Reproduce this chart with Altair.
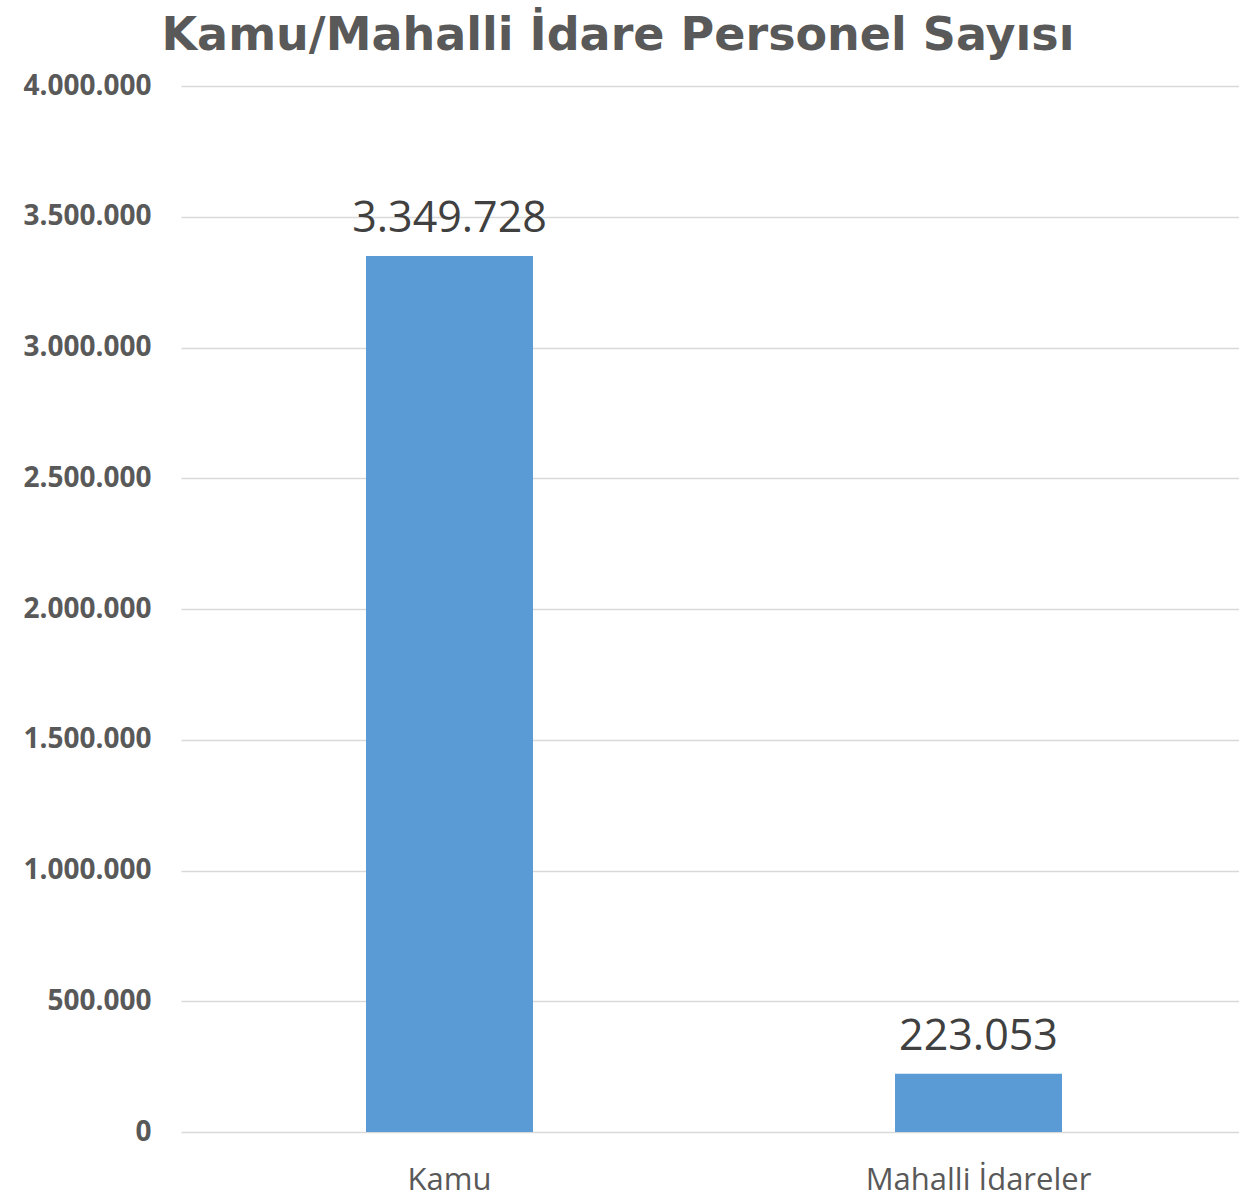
import altair as alt
import pandas as pd

categories = ["Kamu", "Mahalli İdareler"]
values = [3349728, 223053]
y_ticks = [0, 500000, 1000000, 1500000, 2000000, 2500000, 3000000, 3500000, 4000000]

df = pd.DataFrame({"cat": categories, "val": values})

base = alt.Chart(df).encode(
    x=alt.X("cat:N", sort=categories, title=None,
            scale=alt.Scale(paddingInner=0, paddingOuter=0),
            axis=alt.Axis(labelAngle=0, domain=False, ticks=False, labelPadding=33,
                          labelFont="Open Sans", labelFontSize=31, labelColor="#595959",
                          labelLimit=500, labelOffset=4, grid=False)),
)

bars = base.mark_bar(color="#5B9BD5", size=167, xOffset=4).encode(
    y=alt.Y("val:Q", title=None,
            scale=alt.Scale(domain=[0, 4000000], nice=False),
            axis=alt.Axis(values=y_ticks, format=",d", domain=False, ticks=False,
                          labelPadding=30, labelFont="Open Sans", labelFontSize=28,
                          labelFontWeight="bold", labelColor="#595959",
                          gridColor="#d9d9d9", gridWidth=1.6)),
)

labels = base.mark_text(font="Open Sans", fontSize=43, color="#404040",
                        baseline="alphabetic", dy=-24, xOffset=4).encode(
    y=alt.Y("val:Q"),
    text=alt.Text("val:Q", format=",d"),
)

chart = (bars + labels).properties(
    width=1058,
    height=1046,
    padding={"left": 181, "top": 86, "right": 0, "bottom": 67},
    autosize=alt.AutoSizeParams(type="none"),
    title=alt.TitleParams("Kamu/Mahalli İdare Personel Sayısı", font="DejaVu Sans",
                          fontSize=46, fontWeight="bold", color="#595959",
                          anchor="middle", frame="bounds", offset=12, dx=-13),
).configure(
    locale=alt.Locale(number=alt.NumberLocale(decimal=",", thousands=".", grouping=[3],
                                              currency=["", ""]))
).configure_view(stroke=None)

chart.save("out.html", embed_options={"renderer": "svg", "actions": False})
